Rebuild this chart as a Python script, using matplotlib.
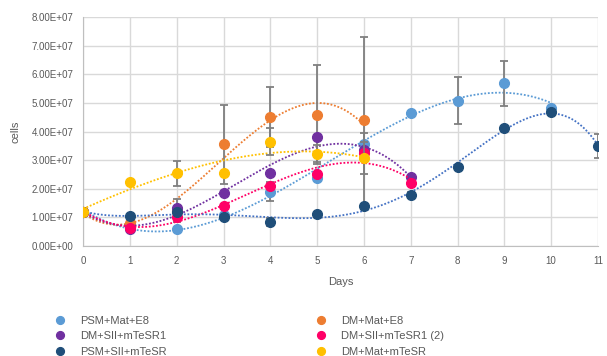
import numpy as np
import matplotlib
matplotlib.use("Agg")
import matplotlib.pyplot as plt
from matplotlib.ticker import FuncFormatter

plt.rcParams['font.family'] = ['Liberation Sans', 'DejaVu Sans']

# data (cells, in units of 1e7)
days_psm_e8 = [0, 1, 2, 3, 4, 5, 6, 7, 8, 9, 10]
psm_e8 = [1.2, 0.65, 0.58, 1.08, 1.9, 2.39, 3.56, 4.66, 5.08, 5.69, 4.81]
psm_e8_err = [0, 0, 0, 0, 0.33, 0, 0.4, 0, 0.83, 0.79, 0]

days_dm_e8 = [0, 1, 2, 3, 4, 5, 6]
dm_e8 = [1.2, 0.8, 1.24, 3.56, 4.5, 4.59, 4.39]
dm_e8_err = [0, 0, 0.39, 1.38, 1.05, 1.74, 2.93]

days_dm_sii = [0, 1, 2, 3, 4, 5, 6, 7]
dm_sii = [1.2, 0.58, 1.32, 1.85, 2.54, 3.8, 3.35, 2.42]

days_dm_sii2 = [0, 1, 2, 3, 4, 5, 6, 7]
dm_sii2 = [1.2, 0.63, 1.0, 1.41, 2.1, 2.51, 3.26, 2.21]

days_psm_sii = [0, 1, 2, 3, 4, 5, 6, 7, 8, 9, 10, 11]
psm_sii = [1.2, 1.06, 1.2, 1.0, 0.84, 1.12, 1.41, 1.78, 2.76, 4.14, 4.67, 3.5]
psm_sii_err = [0, 0, 0, 0, 0.14, 0, 0, 0.1, 0, 0, 0, 0.43]

days_dm_mt = [0, 1, 2, 3, 4, 5, 6]
dm_mt = [1.2, 2.23, 2.54, 2.56, 3.64, 3.22, 3.08]
dm_mt_err = [0, 0, 0.44, 0, 0.47, 0.3, 0.55]

series = [
    ("PSM+Mat+E8", days_psm_e8, psm_e8, psm_e8_err, "#5B9BD5", "#5B9BD5", 3),
    ("DM+Mat+E8", days_dm_e8, dm_e8, dm_e8_err, "#ED7D31", "#ED7D31", 3),
    ("DM+SII+mTeSR1", days_dm_sii, dm_sii, None, "#7030A0", "#7030A0", 3),
    ("DM+SII+mTeSR1 (2)", days_dm_sii2, dm_sii2, None, "#FF0066", "#FF0066", 3),
    ("PSM+SII+mTeSR", days_psm_sii, psm_sii, psm_sii_err, "#1F4E79", "#4472C4", 5),
    ("DM+Mat+mTeSR", days_dm_mt, dm_mt, dm_mt_err, "#FFC000", "#FFC000", 3),
]

fig = plt.figure(figsize=(6.07, 3.56), dpi=100)
ax = fig.add_axes([0.137, 0.309, 0.848, 0.643])

handles = {}
for i, (name, x, y, err, col, tcol, deg) in enumerate(series):
    x = np.array(x, dtype=float)
    y = np.array(y) * 1e7
    # excel-style polynomial trendline
    coef = np.polyfit(x, y, deg)
    xs = np.linspace(x.min(), x.max(), 200)
    ax.plot(xs, np.polyval(coef, xs), ls=(0, (1, 1)), color=tcol, lw=1.3, zorder=2 + i)
    if err is not None:
        e = np.array(err) * 1e7
        m = e > 0
        ax.errorbar(x[m], y[m], yerr=e[m], fmt='none', ecolor='#7f7f7f',
                    elinewidth=1.3, capsize=3, capthick=1.3, zorder=2.5 + i)
    h, = ax.plot(x, y, 'o', color=col, ms=7, mec=col, zorder=3 + i, label=name)
    handles[name] = h

ax.set_xlim(0, 11)
ax.set_ylim(0, 8e7)
ax.set_xticks(range(12))
ax.set_yticks(np.arange(0, 8.01e7, 1e7))
ax.yaxis.set_major_formatter(FuncFormatter(lambda v, p: "%.2E" % v))
ax.grid(True, color='#d9d9d9', lw=1)
ax.set_axisbelow(True)
for s in ['top', 'right']:
    ax.spines[s].set_visible(False)
for s in ['left', 'bottom']:
    ax.spines[s].set_color('#bfbfbf')
ax.tick_params(length=0, labelsize=7, colors='#595959', pad=7)
ax.set_xlabel("Days", fontsize=8, color='#595959', labelpad=8)
ax.set_ylabel("cells", fontsize=8, color='#595959', labelpad=8)

order = ["PSM+Mat+E8", "DM+SII+mTeSR1", "PSM+SII+mTeSR",
         "DM+Mat+E8", "DM+SII+mTeSR1 (2)", "DM+Mat+mTeSR"]
leg = fig.legend([handles[n] for n in order], order, ncol=2, loc='lower left',
                 bbox_to_anchor=(0.064, -0.03), frameon=False, fontsize=8,
                 labelcolor='#595959', handletextpad=0.8, columnspacing=12.9,
                 labelspacing=0.5, markerscale=0.8)

fig.savefig("out.png", dpi=100)
